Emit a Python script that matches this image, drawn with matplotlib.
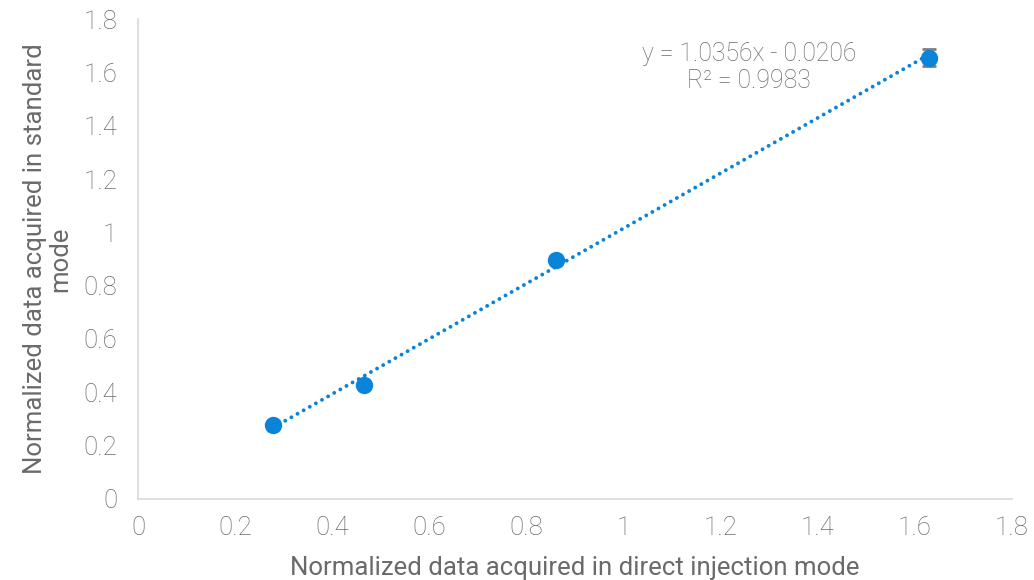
import numpy as np
import matplotlib
matplotlib.use("Agg")
import matplotlib.pyplot as plt

plt.rcParams['font.family'] = ['Roboto', 'DejaVu Sans']
plt.rcParams['font.weight'] = 'light'

# data
direct = [0.278, 0.465, 0.861, 1.629]
standard = [0.277, 0.427, 0.896, 1.654]
err = [0.0, 0.0, 0.0, 0.032]
slope, intercept = 1.0356, -0.0206
r2 = 0.9983

blue = '#0A84D8'
grey = '#6A6A6A'

fig = plt.figure(figsize=(10.34, 5.8), dpi=100)
ax = fig.add_axes([0.1335, 0.1397, 0.8452, 0.8275])

xfit = np.array([direct[0], direct[-1]])
ax.plot(xfit, slope * xfit + intercept, linestyle=(0, (0.01, 1.8)), color=blue,
        linewidth=2.8, dash_capstyle='round', zorder=2)
ax.errorbar(direct, standard, yerr=err, fmt='o', color=blue, markersize=11.5,
            ecolor='#7F7F7F', elinewidth=2, capsize=5, capthick=2, zorder=3)

ax.text(0.699, 0.899, f'y = {slope}x - {abs(intercept)}\nR² = {r2}',
        transform=ax.transAxes, ha='center', va='center', fontsize=17.8,
        color=grey, linespacing=1.2)

ax.set_xlim(0, 1.8)
ax.set_ylim(0, 1.8)
ax.set_xticks(np.arange(0, 1.81, 0.2))
ax.set_yticks(np.arange(0, 1.81, 0.2))
fmt = lambda v: '0' if v == 0 else ('1' if abs(v - 1) < 1e-9 else f'{v:.1f}')
ax.set_xticklabels([fmt(v) for v in ax.get_xticks()])
ax.set_yticklabels([fmt(v) for v in ax.get_yticks()])
ax.tick_params(length=0, labelsize=18.5, labelcolor=grey)
ax.tick_params(axis='y', pad=15)
ax.tick_params(axis='x', pad=12)

for s in ['top', 'right']:
    ax.spines[s].set_visible(False)
for s in ['left', 'bottom']:
    ax.spines[s].set_color('#D9D9D9')
    ax.spines[s].set_linewidth(1.2)

ax.set_xlabel('Normalized data acquired in direct injection mode', fontsize=18.5,
              color=grey, labelpad=12)
ax.set_ylabel('Normalized data acquired in standard\nmode', fontsize=18.5,
              color=grey, labelpad=8, linespacing=1.05)

fig.savefig('out.png', dpi=100)
